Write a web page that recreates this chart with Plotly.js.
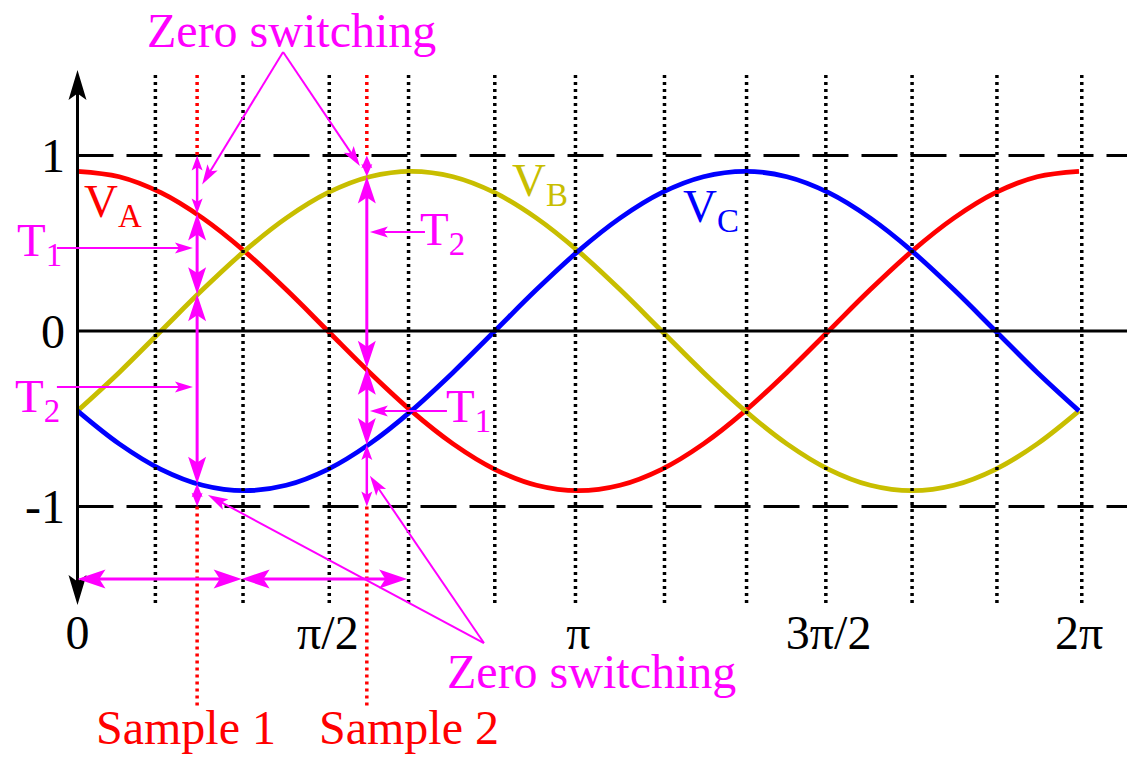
<!DOCTYPE html>
<html>
<head>
<meta charset="utf-8">
<script src="https://cdn.plot.ly/plotly-3.0.1.min.js"></script>
<style>
  html, body { margin: 0; padding: 0; background: #fff; }
  #chart { width: 1127px; height: 759px; }
</style>
</head>
<body>
<div id="chart"></div>
<script>
// Three-phase reference voltages over one period, angle in degrees
const angle = [0, 15, 30, 45, 60, 75, 90, 105, 120, 135, 150, 165, 180,
               195, 210, 225, 240, 255, 270, 285, 300, 315, 330, 345, 360];
const vA = [0.91, 0.879, 0.788, 0.643, 0.455, 0.236, 0, -0.236, -0.455, -0.643, -0.788, -0.879, -0.91,
            -0.879, -0.788, -0.643, -0.455, -0.236, 0, 0.236, 0.455, 0.643, 0.788, 0.879, 0.91];
const vB = [-0.455, -0.236, 0, 0.236, 0.455, 0.643, 0.788, 0.879, 0.91, 0.879, 0.788, 0.643, 0.455,
            0.236, 0, -0.236, -0.455, -0.643, -0.788, -0.879, -0.91, -0.879, -0.788, -0.643, -0.455];
const vC = [-0.455, -0.643, -0.788, -0.879, -0.91, -0.879, -0.788, -0.643, -0.455, -0.236, 0, 0.236, 0.455,
            0.643, 0.788, 0.879, 0.91, 0.879, 0.788, 0.643, 0.455, 0.236, 0, -0.236, -0.455];

// Axis ticks
const tickAngles = [0, 90, 180, 270, 360];
const tickNames = ['0', 'π/2', 'π', '3π/2', '2π'];
const levelTicks = [1, 0, -1];
const levelNames = ['1', '0', '-1'];

// Switching grid (dotted verticals)
const gridAngles = [28, 59.5, 90.5, 119, 150, 179, 211, 240.5, 269, 300, 330.5, 361];

// Sampling instants and the phase values taken at each
const sampleAngles = [43, 104];
const sampleNames = ['Sample 1', 'Sample 2'];
const sampleVA = [0.67, -0.21];
const sampleVB = [0.21, 0.88];
const sampleVC = [-0.87, -0.65];

// Sampling periods marked along the bottom
const periodEdges = [0, 59, 118.5];

// ---- geometry of the drawing area ----
const W = 1127, H = 759;
const PLOT_L = 66;
const X0 = 77.5, PX_PER_DEG = 1001.5 / 360;
const Y0 = 331, PX_PER_UNIT = 175.5;
const xRange = [(PLOT_L - X0) / PX_PER_DEG, (W - X0) / PX_PER_DEG];
const yRange = [(Y0 - H) / PX_PER_UNIT, Y0 / PX_PER_UNIT];
const paperX = x => (x - xRange[0]) / (xRange[1] - xRange[0]);
const paperY = y => (y - yRange[0]) / (yRange[1] - yRange[0]);

const MAG = '#ff00ff';
const OLIVE = '#c8be00';
const FONT = 'Liberation Serif, Times New Roman, serif';

const shapes = [];
// onPaper: place the shape by paper fraction so it may run past the plotting area
function seg(x0, y0, x1, y1, color, width, dash, onPaper) {
  const s = {type: 'line', xref: 'x', yref: 'y', x0, y0, x1, y1,
             line: {color, width, dash: dash || 'solid'}};
  if (onPaper) Object.assign(s, {xref: 'paper', yref: 'paper',
                                 x0: paperX(x0), x1: paperX(x1), y0: paperY(y0), y1: paperY(y1)});
  shapes.push(s);
}

// Notched arrow head with its tip at (x, y), pointing away from (fx, fy)
function head(x, y, fx, fy, len, half, color, onPaper) {
  let ux = (x - fx) * PX_PER_DEG, uy = -(y - fy) * PX_PER_UNIT;
  const n = Math.hypot(ux, uy); ux /= n; uy /= n;
  const nx = -uy, ny = ux;
  const pts = [[0, 0],
               [-len * ux + half * nx, -len * uy + half * ny],
               [-0.78 * len * ux, -0.78 * len * uy],
               [-len * ux - half * nx, -len * uy - half * ny]];
  const path = pts.map((p, i) => {
    let px = x + p[0] / PX_PER_DEG, py = y - p[1] / PX_PER_UNIT;
    if (onPaper) { px = paperX(px); py = paperY(py); }
    return (i ? 'L' : 'M') + px.toFixed(5) + ',' + py.toFixed(5);
  }).join('') + 'Z';
  const ref = onPaper ? 'paper' : undefined;
  shapes.push({type: 'path', xref: ref || 'x', yref: ref || 'y', path,
               fillcolor: color, line: {width: 0}});
}

function arrow(x0, y0, x1, y1, o) {
  const opt = Object.assign({color: MAG, width: 2, len: 16, half: 5, start: true, end: true, paper: false}, o || {});
  const L = Math.hypot((x1 - x0) * PX_PER_DEG, (y1 - y0) * PX_PER_UNIT);
  const len = Math.min(opt.len, 0.6 * L);
  const t = Math.min(0.6 * len / L, 0.5);
  const sx = opt.start ? x0 + (x1 - x0) * t : x0, sy = opt.start ? y0 + (y1 - y0) * t : y0;
  const ex = opt.end ? x1 - (x1 - x0) * t : x1, ey = opt.end ? y1 - (y1 - y0) * t : y1;
  seg(sx, sy, ex, ey, opt.color, opt.width, null, opt.paper);
  if (opt.end) head(x1, y1, x0, y0, len, opt.half, opt.color, opt.paper);
  if (opt.start) head(x0, y0, x1, y1, len, opt.half, opt.color, opt.paper);
}

// reference levels
seg(0, 1, xRange[1], 1, '#000', 3, '36px,13px');
seg(0, -1, xRange[1], -1, '#000', 3, '36px,13px');
seg(0, 0, xRange[1], 0, '#000', 3);

// dotted switching grid
gridAngles.forEach(a => seg(a, 1.459, a, -1.561, '#000', 3.5, '3px,4px'));
// sampling instants (the span between -1 and 1 is covered by the timing arrows)
sampleAngles.forEach(a => {
  seg(a, 1.459, a, 1, '#ff0000', 3.5, '3px,4px');
  seg(a, -1, a, -2.148, '#ff0000', 3.5, '3px,4px');
});

// vertical axis with arrows at both ends
arrow(0, 0, 0, 1.487, {color: '#000', width: 3, len: 30, half: 9, start: false, paper: true});
arrow(0, 0, 0, -1.561, {color: '#000', width: 3, len: 30, half: 9, start: false, paper: true});

// switching-time arrows between the ordered levels at each sample
sampleAngles.forEach((a, i) => {
  const lv = [1, sampleVA[i], sampleVB[i], sampleVC[i], -1].sort((p, q) => q - p);
  for (let k = 0; k < 4; k++) {
    const outer = (k === 0 || k === 3);
    arrow(a, lv[k], a, lv[k + 1], outer ? {width: 2.5, len: 15, half: 5.5} : {width: 3, len: 27, half: 9});
  }
});

// sampling periods
for (let k = 0; k + 1 < periodEdges.length; k++) {
  arrow(periodEdges[k], -1.413, periodEdges[k + 1], -1.413, {width: 3, len: 28, half: 9.5, paper: k === 0});
}

// T1 / T2 pointers
arrow(-7.4, 0.473, sampleAngles[0] - 1.5, 0.473, {start: false, len: 18, half: 5.5, paper: true});
arrow(-7.4, -0.319, sampleAngles[0] - 1.5, -0.319, {start: false, len: 18, half: 5.5, paper: true});
arrow(124.9, 0.564, sampleAngles[1] + 1.1, 0.564, {start: false, len: 18, half: 5.5});
arrow(132.8, -0.456, sampleAngles[1] + 1.1, -0.456, {start: false, len: 18, half: 5.5});

// zero-switching call-outs
const topApex = [73.9, 1.59], botApex = [146.1, -1.778];
arrow(topApex[0], topApex[1], sampleAngles[0] + 1.8, (1 + sampleVA[0]) / 2, {start: false, len: 20, half: 6});
arrow(topApex[0], topApex[1], sampleAngles[1] - 2.5, (1 + sampleVB[1]) / 2, {start: false, len: 20, half: 6});
arrow(botApex[0], botApex[1], sampleAngles[0] + 3.9, (sampleVC[0] - 1) / 2, {start: false, len: 20, half: 6});
arrow(botApex[0], botApex[1], sampleAngles[1] + 1.1, (sampleVC[1] - 1) / 2, {start: false, len: 20, half: 6});

// ---- text ----
function label(text, x, y, color, xanchor, size) {
  const a = {text, x, y, xref: 'x', yref: 'y', showarrow: false,
             xanchor: xanchor || 'center', yanchor: 'middle',
             font: {family: FONT, size: size || 47, color}};
  if (x < xRange[0]) Object.assign(a, {xref: 'paper', x: paperX(x)});
  return a;
}
const annotations = [
  label('Zero switching', 77.1, 1.715, MAG, 'center', 48),
  label('Zero switching', 184.6, -1.94, MAG, 'center', 48),
  label(sampleNames[0], 39.0, -2.26, '#ff0000', 'center', 48),
  label(sampleNames[1], 119.2, -2.26, '#ff0000', 'center', 48),
  label('V<sub>A</sub>', 1.6, 0.72, '#ff0000', 'left'),
  label('V<sub>B</sub>', 155.5, 0.84, OLIVE, 'left'),
  label('V<sub>C</sub>', 217.0, 0.69, '#0000ff', 'left'),
  label('T<sub>1</sub>', -22.5, 0.50, MAG, 'left'),
  label('T<sub>2</sub>', -23.2, -0.39, MAG, 'left'),
  label('T<sub>2</sub>', 122.5, 0.56, MAG, 'left'),
  label('T<sub>1</sub>', 131.8, -0.45, MAG, 'left')
];

const traces = [
  {x: angle, y: vA, name: 'V<sub>A</sub>', line: {color: '#ff0000'}},
  {x: angle, y: vB, name: 'V<sub>B</sub>', line: {color: OLIVE}},
  {x: angle, y: vC, name: 'V<sub>C</sub>', line: {color: '#0000ff'}}
].map(t => Object.assign({type: 'scatter', mode: 'lines', hoverinfo: 'skip'}, t,
      {line: Object.assign({width: 4.8, shape: 'spline', smoothing: 1}, t.line)}));

const layout = {
  width: W, height: H,
  margin: {l: PLOT_L, r: 0, t: 0, b: 0, pad: 0},
  paper_bgcolor: '#fff', plot_bgcolor: '#fff',
  showlegend: false,
  xaxis: {
    range: xRange, anchor: 'free', position: 0.21,
    tickvals: tickAngles, ticktext: tickNames, ticks: '',
    showgrid: false, zeroline: false, showline: false,
    tickfont: {family: FONT, size: 48, color: '#000'}
  },
  yaxis: {
    range: yRange,
    tickvals: levelTicks, ticktext: levelNames, ticks: '',
    showgrid: false, zeroline: false, showline: false,
    tickfont: {family: FONT, size: 48, color: '#000'}
  },
  shapes, annotations
};

Plotly.newPlot('chart', traces, layout, {displayModeBar: false, staticPlot: true});
</script>
</body>
</html>
